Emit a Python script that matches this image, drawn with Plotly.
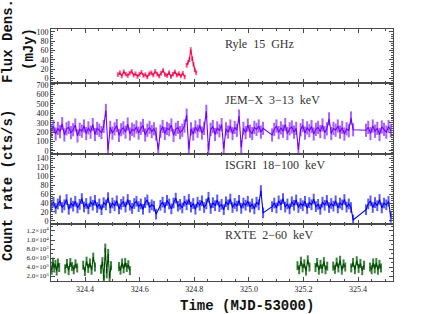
import numpy as np
import plotly.graph_objects as go
from plotly.subplots import make_subplots

# ---------------- data ----------------
# Ryle 15 GHz (mJy)
RYLE_SEGMENTS = [(324.520, 324.765), (324.772, 324.807)]
RYLE_VALUES = [
    [8, 12, 5, 14, 9, 6, 11, 15, 7, 10, 4, 9, 13, 6, 8, 3, 10, 12, 7, 15,
     9, 5, 11, 17, 8, 6, 12, 4, 9, 14, 7, 10, 5, 11, 3],
    [28, 34, 40, 62, 42, 30, 18, 12],
]
RYLE_ERR = 5

# JEM-X 3-13 keV (cts/s)
JEMX_SEGMENTS = [(324.276, 325.052), (325.085, 325.382), (325.429, 325.520)]
JEMX_VALUES = [
    [215, 260, 180, 240, 205, 290, 170, 235, 250, 195,
     225, 275, 160, 230, 210, 265, 185, 245, 200, 280,
     175, 240, 220, 195, 260, 430, 10, 250, 190, 235,
     270, 165, 225, 245, 200, 285, 180, 230, 215, 255,
     190, 240, 270, 170, 220, 250, 205, 235, 180, 15,
     210, 260, 185, 240, 225, 275, 165, 230, 250, 195,
     220, 265, 380, 20, 235, 180, 255, 210, 270, 190,
     240, 420, 5, 230, 260, 175, 245, 215, 280, 25,
     235, 200, 265, 185, 250, 220, 370, 40, 240, 195,
     275, 210, 185, 250, 230, 265, 200, 240],
    [170, 230, 265, 195, 245, 210, 280, 185, 235, 255,
     200, 240, 15, 225, 270, 190, 245, 215, 260, 180,
     230, 250, 205, 275, 195, 235, 340, 185, 240, 220,
     265, 200, 250, 180, 235, 215, 350, 225],
    [220, 250, 185, 265, 210, 240, 175, 255, 230, 200, 260, 215],
]
JEMX_ERR = 70

# ISGRI 18-100 keV (cts/s)
ISGRI_SEGMENTS = [(324.276, 324.660), (324.676, 325.052),
                  (325.085, 325.382), (325.429, 325.520)]
ISGRI_VALUES = [
    [34, 42, 28, 38, 45, 30, 36, 48, 26, 40,
     33, 44, 29, 37, 50, 31, 39, 27, 43, 35,
     46, 30, 38, 25, 41, 36, 52, 29, 40, 34,
     45, 27, 37, 43, 31, 48, 35, 28, 39, 44,
     32, 38, 26, 41, 47, 30, 36, 33, 15],
    [35, 42, 30, 46, 38, 27, 40, 51, 33, 37,
     29, 44, 36, 48, 31, 39, 26, 42, 35, 45,
     30, 38, 53, 28, 41, 34, 47, 32, 37, 25,
     43, 36, 49, 30, 39, 33, 46, 28, 40, 35,
     44, 31, 38, 27, 42, 36, 68, 18],
    [32, 40, 29, 45, 36, 50, 31, 38, 27, 43,
     35, 47, 30, 39, 34, 44, 28, 41, 36, 49,
     32, 37, 26, 42, 35, 46, 30, 39, 33, 45,
     29, 40, 36, 48, 31, 38, 30, 2],
    [25, 38, 45, 30, 41, 34, 48, 29, 40, 36, 44, 8],
]
ISGRI_ERR = 12

# RXTE 2-60 keV (cts/s), one block per orbit
RXTE_SEGMENTS = [(324.273, 324.305), (324.327, 324.371), (324.393, 324.436),
                 (324.458, 324.495), (324.524, 324.564), (325.178, 325.222),
                 (325.244, 325.287), (325.309, 325.353), (325.375, 325.422),
                 (325.444, 325.484)]
RXTE_VALUES = [
    [4200, 3300, 5100, 3800, 4600, 3100, 4900, 3900],
    [3600, 4800, 3200, 5000, 4100, 3400, 4700, 3800],
    [4400, 3000, 5300, 3700, 4900, 3300, 6200, 4000],
    [3500, 5200, 1200, 8200, 2500, 7000, 1500, 4300],
    [4100, 3300, 4900, 3600, 5000, 3900, 4500, 3200],
    [4300, 3400, 5300, 3800, 4700, 3100, 5600, 4000],
    [3900, 5000, 3300, 4600, 3600, 5200, 3400, 4200],
    [4200, 3500, 5100, 3800, 5500, 3300, 4700, 4000],
    [3800, 5000, 3400, 5400, 3700, 4800, 3200, 4400],
    [4000, 3400, 4900, 3600, 5000, 3300, 4600, 3800],
]
RXTE_ERR = 1000

RXTE_TICKVALS = [2000, 4000, 6000, 8000, 10000, 12000]
RXTE_TICKTEXT = ["2.0×10<sup>3</sup>", "4.0×10<sup>3</sup>", "6.0×10<sup>3</sup>",
                 "8.0×10<sup>3</sup>", "1.0×10<sup>4</sup>", "1.2×10<sup>4</sup>"]
X_TICKVALS = [324.4, 324.6, 324.8, 325.0, 325.2, 325.4]


def build(segments, values, break_between):
    xs, ys = [], []
    for (t0, t1), v in zip(segments, values):
        xs.extend(np.linspace(t0, t1, len(v)).tolist())
        ys.extend(v)
        if break_between:
            xs.append(None)
            ys.append(None)
    return xs, ys


fig = make_subplots(rows=4, cols=1, shared_xaxes=True, vertical_spacing=0,
                    row_heights=[54, 71, 70, 57])

series = [
    (RYLE_SEGMENTS, RYLE_VALUES, RYLE_ERR, True, "#f0004a", "#ff5a86", 1, 2),
    (JEMX_SEGMENTS, JEMX_VALUES, JEMX_ERR, False, "#7000ff", "#a860ff", 2, 2),
    (ISGRI_SEGMENTS, ISGRI_VALUES, ISGRI_ERR, False, "#0000f0", "#5a5aff", 3, 2),
    (RXTE_SEGMENTS, RXTE_VALUES, RXTE_ERR, True, "#004a00", "#3f7f3f", 4, 2),
]
for segs, vals, err, brk, dark, light, row, thick in series:
    xs, ys = build(segs, vals, brk)
    fig.add_trace(go.Scatter(
        x=xs, y=ys, mode="lines", line=dict(color=dark, width=1.1),
        connectgaps=False,
        error_y=dict(type="constant", value=err, color=light, thickness=thick,
                     width=0, visible=True),
        showlegend=False, hoverinfo="skip"), row=row, col=1)

AX = "#4a4a4a"
tickfont = dict(family="Liberation Serif", size=8, color="#222")

fig.update_xaxes(range=[324.275, 325.528], showline=True, linecolor=AX, linewidth=1,
                 mirror="allticks", ticks="inside", ticklen=4, tickcolor=AX,
                 tickvals=X_TICKVALS, tickformat=".1f",
                 minor=dict(ticks="inside", ticklen=2, dtick=0.05, tick0=324.4, tickcolor=AX),
                 showgrid=False, zeroline=False, tickfont=tickfont)
fig.update_yaxes(showline=True, linecolor=AX, linewidth=1, mirror="allticks",
                 ticks="inside", ticklen=4, tickcolor=AX, showgrid=False,
                 zeroline=False, tickfont=tickfont)

fig.update_yaxes(range=[-10, 106], dtick=20, tick0=0,
                 minor=dict(ticks="inside", ticklen=2, dtick=5, tickcolor=AX), row=1, col=1)
fig.update_yaxes(range=[-32, 721], dtick=100, tick0=0,
                 minor=dict(ticks="inside", ticklen=2, dtick=20, tickcolor=AX), row=2, col=1)
fig.update_yaxes(range=[-7, 150], dtick=20, tick0=0,
                 minor=dict(ticks="inside", ticklen=2, dtick=5, tickcolor=AX), row=3, col=1)
fig.update_yaxes(range=[900, 13550], tickvals=RXTE_TICKVALS, ticktext=RXTE_TICKTEXT,
                 tickfont=dict(family="Liberation Serif", size=7, color="#222"),
                 minor=dict(ticks="inside", ticklen=2, dtick=1000, tickcolor=AX), row=4, col=1)

label_font = dict(family="Liberation Serif", size=12, color="#333")
NB = "\u00a0"
panel_labels = [
    (f"Ryle{NB}{NB}15{NB}{NB}GHz", 0.940),
    (f"JEM−X{NB}{NB}3−13{NB}{NB}keV", 0.718),
    (f"ISGRI{NB}{NB}18−100{NB}{NB}keV", 0.460),
    (f"RXTE{NB}{NB}2−60{NB}{NB}keV", 0.183),
]
for txt, yy in panel_labels:
    fig.add_annotation(text=txt, xref="paper", yref="paper", x=0.503, y=yy,
                       xanchor="left", yanchor="middle", showarrow=False, font=label_font)

axis_font = dict(family="Liberation Mono", size=14, color="#111")
fig.add_annotation(text="<b>Flux Dens.</b>", xref="paper", yref="paper", x=-0.126, y=0.952,
                   textangle=-90, xanchor="center", yanchor="middle", showarrow=False,
                   font=axis_font)
fig.add_annotation(text="<b>(mJy)</b>", xref="paper", yref="paper", x=-0.064, y=0.921,
                   textangle=-90, xanchor="center", yanchor="middle", showarrow=False,
                   font=axis_font)
fig.add_annotation(text="<b>Count rate (cts/s)</b>", xref="paper", yref="paper",
                   x=-0.126, y=0.381, textangle=-90, xanchor="center", yanchor="middle",
                   showarrow=False, font=axis_font)
fig.add_annotation(text="<b>Time (MJD-53000)</b>", xref="paper", yref="paper",
                   x=0.573, y=-0.101, xanchor="center", yanchor="middle", showarrow=False,
                   font=dict(family="Liberation Mono", size=14, color="#111"))

fig.update_layout(width=436, height=314, margin=dict(l=51, r=43, t=29, b=33),
                  plot_bgcolor="white", paper_bgcolor="white", showlegend=False)

fig.write_html("out.html", config={"displayModeBar": False},
               post_script="document.body.style.margin='0';")
